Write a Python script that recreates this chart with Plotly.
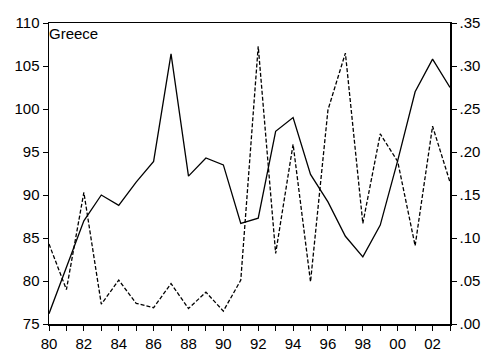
import plotly.graph_objects as go

years = list(range(1980, 2004))
solid_values = [76.2, 81.7, 87.0, 90.0, 88.8, 91.5, 93.9, 106.4, 92.2, 94.3, 93.5, 86.7,
                87.3, 97.4, 99.0, 92.4, 89.2, 85.2, 82.8, 86.5, 94.0, 102.0, 105.8, 102.5]
dashed_values = [0.093, 0.040, 0.153, 0.023, 0.051, 0.024, 0.019, 0.047, 0.018, 0.037, 0.015, 0.051,
                 0.323, 0.082, 0.209, 0.049, 0.249, 0.315, 0.117, 0.221, 0.189, 0.091, 0.230, 0.165]
x_tick_vals = [1980, 1982, 1984, 1986, 1988, 1990, 1992, 1994, 1996, 1998, 2000, 2002]
x_tick_text = ["80", "82", "84", "86", "88", "90", "92", "94", "96", "98", "00", "02"]
left_ticks = [75, 80, 85, 90, 95, 100, 105, 110]
right_tick_vals = [0.0, 0.05, 0.10, 0.15, 0.20, 0.25, 0.30, 0.35]
right_tick_text = [".00", ".05", ".10", ".15", ".20", ".25", ".30", ".35"]
title_text = "Greece"

font = dict(family="Liberation Sans, Arial, sans-serif", size=15, color="black")

fig = go.Figure()
fig.add_trace(go.Scatter(x=years, y=solid_values, mode="lines",
                         line=dict(color="black", width=1.3), yaxis="y", showlegend=False,
                         hoverinfo="skip"))
fig.add_trace(go.Scatter(x=years, y=dashed_values, mode="lines",
                         line=dict(color="black", width=1.3, dash="4px,2px"), yaxis="y2",
                         showlegend=False, hoverinfo="skip"))

fig.update_layout(
    width=491, height=354,
    margin=dict(l=49, r=41, t=23, b=30, autoexpand=False),
    paper_bgcolor="white", plot_bgcolor="white",
    font=font,
    xaxis=dict(range=[1980, 2003], tickvals=x_tick_vals, ticktext=x_tick_text,
               ticks="outside", ticklen=5, tickcolor="black", tickwidth=1,
               minor=dict(dtick=1, tick0=1980, ticks="outside", ticklen=5, tickcolor="black", showgrid=False),
               showline=True, linecolor="black", linewidth=1.5, mirror=True,
               showgrid=False, zeroline=False, tickfont=font, automargin=False),
    yaxis=dict(range=[75, 110], tickvals=left_ticks, ticks="outside", ticklen=5,
               tickcolor="black", showline=True, linecolor="black", linewidth=1.5,
               showgrid=False, zeroline=False, tickfont=font, automargin=False),
    yaxis2=dict(range=[0, 0.35], tickvals=right_tick_vals, ticktext=right_tick_text,
                overlaying="y", side="right", ticks="outside", ticklen=5, tickcolor="black",
                showline=True, linecolor="black", linewidth=1.5, showgrid=False,
                zeroline=False, tickfont=font, automargin=False),
    annotations=[dict(text=title_text, xref="paper", yref="paper", x=0, y=1,
                      xanchor="left", yanchor="top", showarrow=False, font=font,
                      xshift=-2, yshift=0)],
)

fig.write_html("out.html", config={"displayModeBar": False, "staticPlot": True},
               post_script="document.body.style.margin='0';document.body.style.overflow='hidden';")
